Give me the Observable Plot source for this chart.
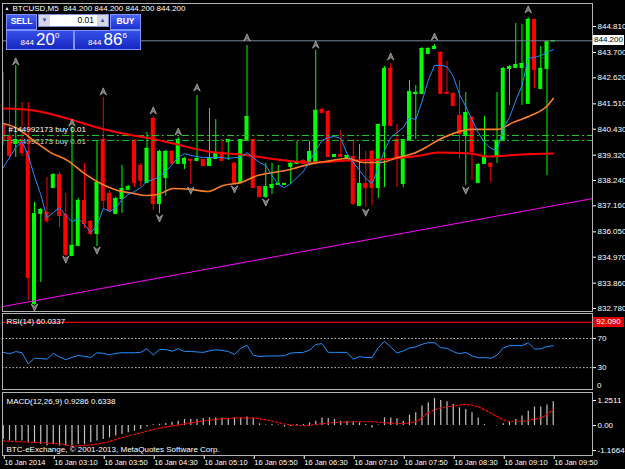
<!DOCTYPE html>
<html><head><meta charset="utf-8">
<script src="https://cdn.jsdelivr.net/npm/d3@7"></script>
<script src="https://cdn.jsdelivr.net/npm/@observablehq/plot@0.6"></script>
<style>
html,body{margin:0;padding:0;background:#000;}
#c{position:relative;width:625px;height:469px;background:#000;overflow:hidden;font-family:"Liberation Sans",Arial,sans-serif;}
#c svg{position:absolute;left:0;display:block;}
.tp{position:absolute;box-sizing:border-box;color:#fff;text-align:center;}
.btn{background:linear-gradient(#4a66f0,#1c30d0);border:1px solid #7d92ff;font-size:8.5px;font-weight:bold;line-height:13px;}
.lot{background:#fff;border:1px solid #8090d0;color:#000;font-size:8.5px;line-height:11px;text-align:right;}
.lot .a{position:absolute;top:0;width:11px;height:11px;background:#d4d8e4;color:#3050c0;font-size:6px;line-height:11px;text-align:center;}
.pr{background:linear-gradient(#3550e8,#1626c0);border:1px solid #7d92ff;white-space:nowrap;}
.pr .s{font-size:8px;}
.pr .l{font-size:17px;line-height:18px;}
.pr .u{font-size:8px;vertical-align:7px;}
.lbl{position:absolute;left:593px;width:31px;height:10px;font-size:8px;line-height:10px;text-align:center;box-sizing:border-box;}
.ax{position:absolute;left:597px;height:10px;font-size:8px;line-height:10px;color:#fff;z-index:5;}
</style></head><body><div id="c"></div>
<script>
// ---------- data ----------
const timeLabels = ["16 Jan 2014","16 Jan 03:10","16 Jan 03:50","16 Jan 04:30","16 Jan 05:10","16 Jan 05:50","16 Jan 06:30","16 Jan 07:10","16 Jan 07:50","16 Jan 08:30","16 Jan 09:10","16 Jan 09:50"];
const timeTickBars = [0,8,16,24,32,40,48,56,64,72,80,88];
const priceTicks = [844.81,843.70,842.62,841.51,840.43,839.32,838.24,837.16,836.05,834.97,833.86,832.78];

const openP = [840.59,840.16,839.82,839.95,839.48,832.99,836.83,836.87,837.94,838.49,
836.79,835.04,835.47,837.39,836.49,835.98,839.99,837.69,836.83,837.47,
837.86,839.95,838.88,838.15,840.88,837.26,838.37,839.48,838.97,838.97,
839.14,839.09,839.14,838.88,839.18,839.43,839.90,838.97,838.15,839.99,
839.99,837.98,837.56,837.94,838.07,838.07,838.84,838.97,839.09,839.01,
839.01,841.27,841.18,839.26,839.35,839.22,839.26,837.17,838.11,839.48,
837.94,840.59,843.02,839.99,838.11,839.99,841.95,841.95,843.66,843.87,
843.70,842.00,841.95,841.01,840.16,840.93,838.15,838.97,838.97,839.26,
839.95,843.02,843.06,843.06,841.53,845.11,842.16,843.02,844.20];
const highP = [842.85,842.51,843.15,841.57,841.57,837.30,837.05,838.37,838.54,838.58,
837.69,840.54,837.47,838.97,836.53,839.95,841.78,837.81,837.52,838.88,
838.03,839.99,838.97,840.29,840.97,839.52,839.52,839.52,840.07,839.22,
839.14,841.87,839.14,841.31,840.84,839.99,839.99,839.01,839.99,844.00,
839.99,837.98,838.97,838.97,838.88,838.11,839.01,839.90,839.14,839.90,
843.79,841.31,841.23,839.35,840.37,839.31,839.99,839.78,839.48,839.52,
840.63,843.10,843.23,840.63,839.99,842.51,842.29,843.91,843.91,844.04,
843.74,843.32,842.00,842.51,842.00,840.97,838.97,840.97,838.97,842.00,
843.06,843.15,844.94,844.90,845.19,845.11,843.96,844.20,844.20];
const lowP = [839.73,839.18,839.22,839.26,833.12,832.91,833.89,836.41,837.90,836.23,
834.91,835.00,835.42,836.19,835.89,835.42,837.05,836.87,836.79,836.83,
837.81,837.94,837.98,838.11,836.96,836.83,837.56,838.92,838.92,838.71,
838.07,839.05,838.88,838.84,839.14,839.05,839.09,838.07,838.11,839.95,
837.90,837.52,837.47,837.64,838.03,838.03,838.07,838.92,838.92,838.97,
838.97,841.14,839.22,839.26,839.22,839.18,837.17,837.13,837.09,837.17,
837.47,837.94,840.59,837.94,837.94,839.95,839.99,841.91,843.66,843.87,
841.91,841.91,841.40,839.14,838.03,838.24,838.11,838.92,838.15,838.97,
839.90,841.44,843.02,841.44,841.48,842.16,842.12,838.45,844.20];
const closeP = [839.95,839.31,839.99,839.43,834.10,836.83,837.00,836.53,838.49,836.75,
835.08,835.47,837.39,836.41,835.98,838.15,837.39,836.96,837.47,837.90,
837.98,838.15,838.24,839.61,837.26,839.48,839.48,838.97,839.99,839.18,
839.09,839.18,838.88,839.22,839.43,839.09,839.99,838.15,839.99,840.97,
837.94,837.56,837.98,838.07,838.11,838.11,838.97,839.01,838.97,839.48,
841.23,841.14,839.26,839.35,839.26,839.31,837.26,838.11,837.94,837.94,
840.63,843.02,840.59,839.18,839.99,842.04,842.00,843.87,843.87,843.96,
841.95,841.95,841.44,840.24,841.14,839.48,838.92,839.22,838.84,839.95,
843.02,843.10,843.19,843.23,845.11,842.98,843.02,844.15,844.20];

// fast MA (blue), one value per bar
const maBlue = [838.79,839.22,839.65,839.90,839.31,838.41,837.64,836.66,836.87,837.09,
836.75,836.49,836.62,836.36,836.02,836.32,837.05,836.92,837.05,837.43,
837.64,837.77,837.94,838.20,838.28,838.41,838.62,838.92,839.22,839.39,
839.31,839.26,839.22,839.22,839.22,839.22,839.18,839.22,839.22,839.43,
839.22,839.01,838.88,838.45,838.07,837.94,838.11,838.37,838.62,839.05,
839.52,839.95,840.07,840.12,840.03,839.39,839.01,838.67,838.33,838.11,
838.75,839.52,840.07,840.29,840.50,840.93,840.84,841.61,842.51,843.15,
843.15,843.10,842.68,841.91,841.40,840.84,840.29,839.86,839.61,839.52,
840.46,840.93,841.65,842.29,843.45,843.49,843.57,843.70,843.83];
// slow MA (red) and medium MA (orange), read at sample bars
const maRedBar = [0,4.84,10.3,15.6,20.8,22.8,27.2,32.7,38,45.2,49.6,55,60.4,66.8,69.5,74.8,77.5,82.8,88];
const maRedVal = [841.31,841.23,840.88,840.46,840.16,840.07,839.82,839.48,839.35,839.09,839.01,839.09,839.14,839.31,839.43,839.39,839.26,839.35,839.39];
const maOrangeBar = [0,2.3,4.8,7.6,10.3,12.8,15.6,18.3,20.8,22.8,24.7,27.2,30,32.7,35.2,38,40.7,43.2,45.2,47.1,49.6,52.4,55.1,57.6,60.4,63.1,65.6,67.6,69.5,72,74.8,77.5,79.1,81.6,84.4,87.1,88];
const maOrangeVal = [840.67,840.46,839.95,839.43,839.09,838.58,838.11,837.81,837.69,837.60,837.64,837.90,837.86,837.77,838.03,838.15,838.45,838.58,838.67,838.80,838.97,839.09,839.18,839.01,839.01,839.22,839.39,839.65,839.95,840.24,840.42,840.42,840.42,840.72,841.01,841.44,841.74];

const trendBar = [-0.12, 94.28];
const trendVal = [832.86, 837.47];

const fracUpBar = [2,11,16,24,28,31,39,50,62,69,84];
const fracUpVal = [843.32,840.71,842.04,841.23,840.33,842.21,844.34,844.04,843.53,844.38,845.54];
const fracDnBar = [5,10,15,25,30,37,42,58,74];
const fracDnVal = [832.82,834.87,835.25,836.62,837.81,837.86,837.30,836.87,837.81];

const bidPrice = 844.20;
const orderPrices = [840.16, 839.95];
const orderLabels = ["#144992173 buy 0.01", "#144992173 buy 0.01"];

const rsiVals = [51,49,52,50.5,35,43,42.5,41.6,49.6,44.5,
41,44,46.5,45.5,44,50.4,49.6,47.5,49.6,50.4,
50.4,50.4,50.9,56,47.3,54.9,54.9,52.5,56,52.2,
52.2,51.5,50.9,53,54.5,53.5,52.2,48,56.2,60.7,
47,45.2,45.8,46,46,46.4,50,50.6,50.9,54,
61.7,62.9,51,50.9,50.9,50.9,41.5,45.1,43.8,43.8,
57.5,66,58.4,50,53,57,58.4,62,64.2,64.2,
57.5,56.5,52,49,50.9,46,43.5,43.8,42.8,47,
57,60.2,60.2,60.2,64,55.5,55.8,59,60.03];
const rsiLevels = [70, 30];
const rsiBottom = 0;
const rsiAlert = 92.09;

const macdHist = [-0.54,-0.60,-0.60,-0.60,-0.67,-0.67,-0.74,-0.80,-0.74,-0.80,
-0.80,-0.80,-0.74,-0.74,-0.67,-0.60,-0.54,-0.48,-0.41,-0.35,
-0.28,-0.22,-0.15,-0.06,0.03,0.05,0.08,0.13,0.17,0.24,
0.24,0.24,0.28,0.30,0.30,0.30,0.28,0.30,0.30,0.33,
0.30,0.07,0.02,0.04,0.02,-0.06,-0.04,0.04,0.04,0.11,
0.17,0.30,0.28,0.24,0.17,0.17,0.15,0.11,0.04,-0.09,
0.02,0.30,0.30,0.27,0.17,0.41,0.50,0.76,0.89,1.06,
0.98,0.93,0.82,0.69,0.63,0.50,0.30,0.04,0.00,-0.02,
0.07,0.15,0.24,0.37,0.56,0.72,0.72,0.80,0.93];
const sigBar = [0,6,9.2,11,12.4,16.2,18.8,22,25.2,28.4,31.6,34.8,38,40.5,43.1,45.6,48.2,50.8,54,57.2,59.1,61,63.6,66.1,68,70,71.9,74.1,76.4,78.9,80.8,82.8,84.7,86.6,88];
const sigVal = [-0.60,-0.67,-0.71,-0.80,-0.78,-0.67,-0.48,-0.28,-0.09,0.04,0.17,0.26,0.30,0.28,0.17,0.04,0.00,0.07,0.13,0.15,0.15,0.11,0.08,0.17,0.50,0.69,0.76,0.82,0.69,0.37,0.17,0.17,0.24,0.37,0.63];
const macdMax = 1.2511, macdMin = -1.1664;

// ---------- build ----------
const UP = "#00ff00", DN = "#ff0000", BORDER = "#b4b4b4", TXT = "#ffffff";
const FONT = "'Liberation Sans', Arial, sans-serif";
const xDomain = [-0.12, 94.28];
const HW = 0.32;
const style = {background: "transparent", color: TXT, fontFamily: FONT, fontSize: "8px", overflow: "visible"};

const candles = openP.map((o, i) => ({i, o, h: highP[i], l: lowP[i], c: closeP[i], up: closeP[i] >= o}));
const ups = candles.filter(d => d.up), dns = candles.filter(d => !d.up);
const blue = maBlue.map((v, i) => ({i, v}));
const red = maRedBar.map((b, k) => ({i: b, v: maRedVal[k]}));
const orange = maOrangeBar.map((b, k) => ({i: b, v: maOrangeVal[k]}));
const trend = trendBar.map((b, k) => ({i: b, v: trendVal[k]}));
const fUp = fracUpBar.map((b, k) => ({i: b, v: fracUpVal[k]}));
const fDn = fracDnBar.map((b, k) => ({i: b, v: fracDnVal[k]}));
const orders = orderPrices.map((p, k) => ({p, t: orderLabels[k]}));

const arrowUp = {draw(ctx, size) { const r = Math.sqrt(size / Math.PI); ctx.moveTo(0, -r); ctx.lineTo(r * 0.9, r); ctx.lineTo(0, r * 0.3); ctx.lineTo(-r * 0.9, r); ctx.closePath(); }};
const arrowDn = {draw(ctx, size) { const r = Math.sqrt(size / Math.PI); ctx.moveTo(0, r); ctx.lineTo(r * 0.9, -r); ctx.lineTo(0, -r * 0.3); ctx.lineTo(-r * 0.9, -r); ctx.closePath(); }};

function candleMarks(data, color) {
  return [
    Plot.ruleX(data, {x: "i", y1: "l", y2: "h", stroke: color, strokeWidth: 1, clip: true}),
    Plot.rect(data, {x1: d => d.i - HW, x2: d => d.i + HW, y1: "o", y2: "c", fill: color, clip: true}),
    Plot.ruleY(data, {y: "c", x1: d => d.i - HW, x2: d => d.i + HW, stroke: color, clip: true}),
    Plot.ruleY(data, {y: "o", x1: d => d.i - HW, x2: d => d.i + HW, stroke: color, clip: true})
  ];
}

const main = Plot.plot({
  width: 625, height: 312,
  marginLeft: 2, marginRight: 33, marginTop: 3, marginBottom: 1,
  x: {domain: xDomain, axis: null},
  y: {domain: [832.78, 844.81], range: [308, 26]},
  style,
  marks: [
    Plot.text([orders[1]], {y: "p", text: "t", frameAnchor: "left", textAnchor: "start", lineAnchor: "middle", dx: 6, dy: 1, fill: "#d8d8d8", fontSize: 8}),
    ...candleMarks(ups, UP),
    ...candleMarks(dns, DN),
    Plot.ruleY([bidPrice], {stroke: "#778899", strokeWidth: 1}),
    Plot.ruleY(orders, {y: "p", stroke: "#22c322", strokeDasharray: "7,3,2,3", strokeWidth: 1}),
    Plot.line(red, {x: "i", y: "v", stroke: "#ff0000", strokeWidth: 2, curve: "monotone-x", clip: true}),
    Plot.line(orange, {x: "i", y: "v", stroke: "#ff7f27", strokeWidth: 1.6, curve: "monotone-x", clip: true}),
    Plot.line(blue, {x: "i", y: "v", stroke: "#1e90ff", strokeWidth: 1, clip: true}),
    Plot.line(trend, {x: "i", y: "v", stroke: "#ff00ff", strokeWidth: 1, clip: true}),
    Plot.dot(fUp, {x: "i", y: "v", symbol: arrowUp, r: 3.6, fill: "#6e6e6e", stroke: "#b8b8b8", strokeWidth: 0.7}),
    Plot.dot(fDn, {x: "i", y: "v", symbol: arrowDn, r: 3.6, fill: "#6e6e6e", stroke: "#b8b8b8", strokeWidth: 0.7}),
    Plot.text([orders[0]], {y: "p", text: "t", frameAnchor: "left", textAnchor: "start", lineAnchor: "middle", dx: 6, dy: -6, fill: TXT, fontSize: 8}),
    Plot.text(["BTCUSD,M5  844.200 844.200 844.200 844.200"], {frameAnchor: "top-left", textAnchor: "start", lineAnchor: "middle", dx: 10, dy: 5, fill: TXT, fontSize: 8}),
    Plot.text(["▲"], {frameAnchor: "top-left", textAnchor: "start", lineAnchor: "middle", dx: 2, dy: 4.5, fill: TXT, fontSize: 5}),
    Plot.axisY(priceTicks, {anchor: "right", tickFormat: d => d.toFixed(3), tickSize: 3, tickPadding: 2, color: TXT, fontSize: 8, label: null}),
    Plot.frame({stroke: BORDER})
  ]
});

const rsiPlot = Plot.plot({
  width: 625, height: 78,
  marginLeft: 2, marginRight: 33, marginTop: 1, marginBottom: 1,
  x: {domain: xDomain, axis: null},
  y: {domain: [0, 100], range: [77, 4.1]},
  style,
  marks: [
    Plot.ruleY(rsiLevels, {stroke: "#c8c8c8", strokeDasharray: "1.5,2"}),
    Plot.ruleY([rsiAlert], {stroke: "#e00000", strokeWidth: 1.2}),
    Plot.line(rsiVals.map((v, i) => ({i, v})), {x: "i", y: "v", stroke: "#1e90ff", strokeWidth: 1, clip: true}),
    Plot.axisY(rsiLevels, {anchor: "right", tickSize: 3, tickPadding: 2, tickFormat: d => String(d), color: TXT, fontSize: 8, label: null}),
    Plot.text(["RSI(14) 60.0337"], {frameAnchor: "top-left", textAnchor: "start", lineAnchor: "middle", dx: 4, dy: 8, fill: TXT, fontSize: 8}),
    Plot.frame({stroke: BORDER})
  ]
});

const macdPlot = Plot.plot({
  width: 625, height: 79,
  marginLeft: 2, marginRight: 33, marginTop: 2, marginBottom: 14,
  x: {domain: xDomain},
  y: {domain: [macdMin, macdMax], range: [65, 3]},
  style,
  marks: [
    Plot.ruleX(macdHist.map((v, i) => ({i, v})), {x: "i", y1: 0, y2: "v", stroke: "#c4c4c4", strokeWidth: 1.2}),
    Plot.line(sigBar.map((b, k) => ({i: b, v: sigVal[k]})), {x: "i", y: "v", stroke: "#ff0000", strokeWidth: 1.2, strokeDasharray: "2,2", curve: "monotone-x"}),
    Plot.axisY([macdMax], {anchor: "right", tickSize: 3, tickPadding: 2, dy: 7, tickFormat: d => d.toFixed(4), color: TXT, fontSize: 8, label: null}),
    Plot.axisY([0], {anchor: "right", tickSize: 3, tickPadding: 2, tickFormat: d => "0.00", color: TXT, fontSize: 8, label: null}),
    Plot.axisY([macdMin], {anchor: "right", tickSize: 3, tickPadding: 2, dy: -5, tickFormat: d => d.toFixed(4), color: TXT, fontSize: 8, label: null}),
    Plot.axisX(timeTickBars, {anchor: "bottom", tickSize: 4, tickPadding: 0, textAnchor: "start", dx: 1, tickFormat: d => timeLabels[timeTickBars.indexOf(d)], color: TXT, fontSize: 7.5, label: null}),
    Plot.text(["MACD(12,26,9) 0.9286 0.6338"], {frameAnchor: "top-left", textAnchor: "start", lineAnchor: "middle", dx: 4, dy: 9, fill: TXT, fontSize: 8}),
    Plot.text(["BTC-eExchange, © 2001-2013, MetaQuotes Software Corp."], {frameAnchor: "bottom-left", textAnchor: "start", lineAnchor: "middle", dx: 4, dy: -6, fill: TXT, fontSize: 8}),
    Plot.frame({stroke: BORDER})
  ]
});

const c = document.getElementById("c");
main.style.top = "0px"; rsiPlot.style.top = "312px"; macdPlot.style.top = "390px";
c.appendChild(main); c.appendChild(rsiPlot); c.appendChild(macdPlot);

// price labels on the axis
function yOf(plot, v) { return plot.scale("y").apply(v); }
const bidLbl = document.createElement("div");
bidLbl.className = "lbl"; bidLbl.textContent = bidPrice.toFixed(3);
bidLbl.style.cssText += `top:${yOf(main, bidPrice) - 5}px;background:#fff;color:#000;`;
c.appendChild(bidLbl);
const rsiLbl = document.createElement("div");
rsiLbl.className = "lbl"; rsiLbl.textContent = rsiAlert.toFixed(3);
rsiLbl.style.cssText += `top:${312 + yOf(rsiPlot, rsiAlert) - 5}px;background:#e00000;color:#fff;`;
c.appendChild(rsiLbl);
const zeroLbl = document.createElement("div");
zeroLbl.className = "ax"; zeroLbl.textContent = String(rsiBottom);
zeroLbl.style.top = `${312 + yOf(rsiPlot, rsiBottom) - 8}px`;
c.appendChild(zeroLbl);

// one-click trading panel
c.insertAdjacentHTML("beforeend", `
<div class="tp btn" style="left:6px;top:14px;width:31px;height:16px;">SELL</div>
<div class="tp lot" style="left:38px;top:14px;width:71px;height:13px;"><span class="a" style="left:0">▼</span><span style="padding-right:14px">0.01</span><span class="a" style="right:0">▲</span></div>
<div class="tp btn" style="left:110px;top:14px;width:31px;height:16px;">BUY</div>
<div class="tp pr" style="left:6px;top:30px;width:68px;height:20px;"><span class="s">844 </span><span class="l">20</span><span class="u">0</span></div>
<div class="tp pr" style="left:74px;top:30px;width:67px;height:20px;"><span class="s">844 </span><span class="l">86</span><span class="u">6</span></div>
`);
</script></body></html>
